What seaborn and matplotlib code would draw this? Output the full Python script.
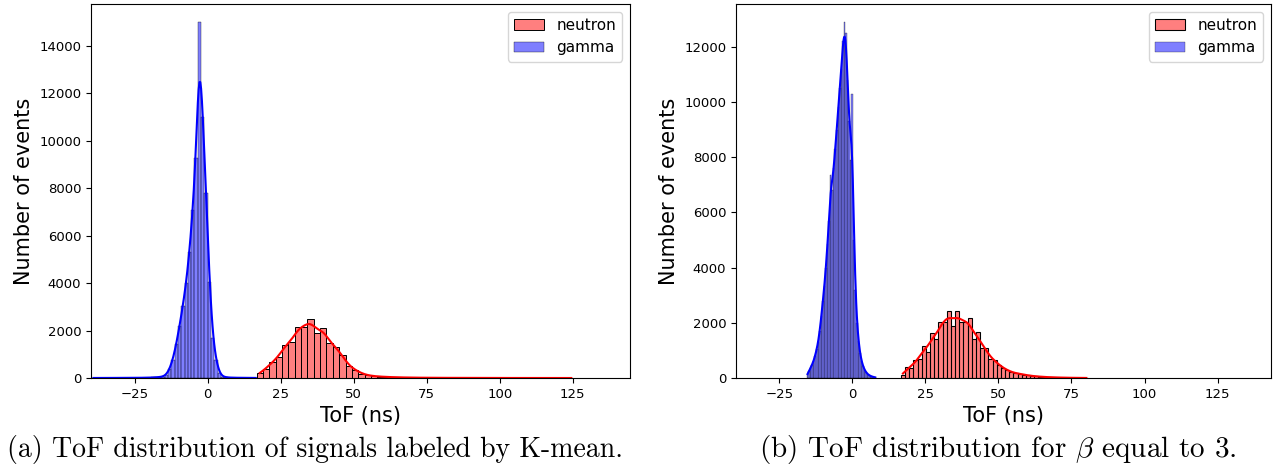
import numpy as np
import matplotlib
matplotlib.use("Agg")
import matplotlib.pyplot as plt
import seaborn as sns

plt.rcParams['mathtext.fontset'] = 'cm'

# ---------------- data (counts per bin) ----------------
# (a) K-mean labelled
gamma_a_range = (-39.7, 17.0)
gamma_a_counts = [3, 3, 3, 4, 4, 4, 5, 5, 5, 6, 6, 7, 8, 9, 10, 12, 14, 17, 22, 30, 42,
                  60, 130, 370, 780, 1420, 2190, 3050, 3990, 5300, 7070, 9250, 15000,
                  10980, 7800, 4050, 1670, 745, 200, 60, 30,
                  20, 15, 12, 10, 8, 7, 6, 5, 5]
neutron_a_range = (16.7, 125.6)
neutron_a_counts = [210, 395, 675, 885, 1410, 1505, 2150, 2150, 2505, 1900, 2125, 1475,
                    1310, 955, 495, 355, 185, 115, 76,
                    60, 45, 35, 28, 22, 18, 15, 12, 10, 9, 8, 7, 6, 5, 5, 4, 4, 3, 3, 3,
                    2, 2, 2, 2, 2, 1, 1, 1, 1, 1, 1]

# (b) beta = 3
gamma_b_range = (-15.6, 8.1)
gamma_b_counts = [150, 250, 380, 480, 620, 800, 1050, 1300, 1700, 2250, 2800, 3350, 4000,
                  4850, 5700, 7350, 6800, 7600, 8300, 9000, 9800, 10500, 11200, 12200,
                  12900, 12500, 10800, 9300, 7900, 10300, 5000, 3200, 2000, 1350, 900,
                  620, 420, 300, 200, 140, 100, 70, 50, 35, 25]
neutron_b_range = (16.6, 80.8)
neutron_b_counts = [120, 383, 359, 635, 683, 1163, 959, 1619, 1403, 2015, 2015, 2435, 1883,
                    2435, 2015, 2039, 2159, 1403, 1679, 1079, 1079, 683, 659, 479, 359,
                    299, 203, 179, 155, 120, 95, 75, 60, 48, 38, 30, 24, 19, 15, 12, 9,
                    7, 5, 4, 3]

series_labels = ["neutron", "gamma"]
series_colors = ["red", "blue"]
x_label = "ToF (ns)"
y_label = "Number of events"
captions = ["(a) ToF distribution of signals labeled by K-mean.",
            r"(b) ToF distribution for $\beta$ equal to 3."]


def bin_centers(rng, n):
    e = np.linspace(rng[0], rng[1], n + 1)
    return (e[:-1] + e[1:]) / 2


def draw(ax, counts, rng, color, label, bw):
    x = bin_centers(rng, len(counts))
    w = np.asarray(counts, dtype=float)
    std = np.sqrt(np.cov(x, aweights=w))
    sns.histplot(x=x, weights=w, bins=len(counts), binrange=rng, kde=True,
                 color=color, label=label, ax=ax,
                 kde_kws={"bw_method": bw / std})


fig = plt.figure(figsize=(12.83, 4.70), dpi=100)
ax1 = fig.add_axes([0.0709, 0.1957, 0.4201, 0.7957])
ax2 = fig.add_axes([0.5737, 0.1957, 0.4170, 0.7957])

draw(ax1, neutron_a_counts, neutron_a_range, series_colors[0], series_labels[0], 1.8)
draw(ax1, gamma_a_counts, gamma_a_range, series_colors[1], series_labels[1], 0.9)
draw(ax2, neutron_b_counts, neutron_b_range, series_colors[0], series_labels[0], 1.5)
draw(ax2, gamma_b_counts, gamma_b_range, series_colors[1], series_labels[1], 0.55)

ax1.set_xlim(-40, 144.6)
ax2.set_xlim(-39.8, 143.3)

for ax in (ax1, ax2):
    ax.set_xlabel(x_label, fontsize=15)
    ax.set_ylabel(y_label, fontsize=15)
    ax.tick_params(labelsize=9.5)
    ax.legend(loc="upper right", fontsize=11)

fig.text(0.2455, 0.043, captions[0], ha="center", va="center",
         fontsize=20, family="cmr10")
fig.text(0.778, 0.043, captions[1], ha="center", va="center",
         fontsize=21, family="cmr10")

fig.savefig("out.png", dpi=100)
